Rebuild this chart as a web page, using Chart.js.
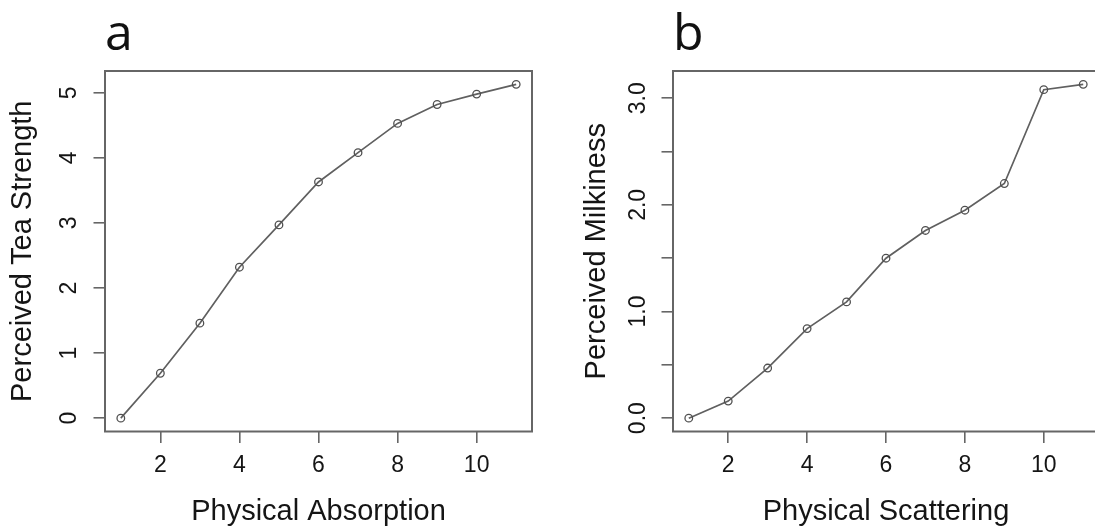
<!DOCTYPE html>
<html>
<head>
<meta charset="utf-8">
<script src="https://cdn.jsdelivr.net/npm/chart.js@4/dist/chart.umd.min.js"></script>
<style>
  body { margin: 0; width: 1095px; height: 527px; overflow: hidden; background: #fff; position: relative; }
  .panel { position: absolute; top: 0; }
  .tag { position: absolute; font-family: "Open Sans", sans-serif; font-size: 50px; line-height: 50px; color: #111; }
</style>
</head>
<body>
<div class="panel" style="left:0px"><canvas id="chartA" width="545" height="527"></canvas></div>
<div class="panel" style="left:568px"><canvas id="chartB" width="544" height="527"></canvas></div>
<div class="tag" style="left:105px; top:6px">a</div>
<div class="tag" style="left:673px; top:6px">b</div>
<script>
// stimulus steps (same for both panels)
const steps = [1, 2, 3, 4, 5, 6, 7, 8, 9, 10, 11];
// perceived values
const teaStrength = [0, 0.69, 1.46, 2.32, 2.97, 3.63, 4.08, 4.53, 4.82, 4.98, 5.13];
const milkiness = [0, 0.16, 0.47, 0.84, 1.09, 1.50, 1.76, 1.95, 2.20, 3.08, 3.13];
// tick labels
const xTickLabels = [2, 4, 6, 8, 10];
const teaTickLabels = [0, 1, 2, 3, 4, 5];
const milkTickLabels = [0, 1, 2, 3];

const ink = '#151515';
const axisGrey = '#666';

// box around the plotting region
const frame = {
    id: 'frame',
    afterDraw(chart) {
        const {ctx, chartArea: a} = chart;
        ctx.save();
        ctx.strokeStyle = axisGrey;
        ctx.lineWidth = 2;
        ctx.strokeRect(a.left, a.top, a.right - a.left, a.bottom - a.top);
        ctx.restore();
    }
};

function makeChart(id, ys, yMin, yMax, yStep, yLabels, fmt, xTitle, yTitle, yPad, yTitlePad) {
    const pts = steps.map((x, i) => ({x: x, y: ys[i]}));
    return new Chart(document.getElementById(id), {
        type: 'line',
        data: {
            datasets: [{
                data: pts,
                borderColor: '#606060',
                borderWidth: 1.7,
                pointRadius: 3.8,
                pointBorderWidth: 1.3,
                pointBorderColor: '#505050',
                pointBackgroundColor: 'rgba(0,0,0,0)',
                tension: 0
            }]
        },
        options: {
            responsive: false,
            animation: false,
            events: [],
            layout: { padding: { top: 71, right: 13, left: 0, bottom: 0 } },
            plugins: { legend: { display: false }, tooltip: { enabled: false } },
            scales: {
                x: {
                    type: 'linear',
                    min: 0.6,
                    max: 11.4,
                    afterFit: s => { s.height = 95.5; },
                    grid: { drawOnChartArea: false, tickLength: 11.5, color: axisGrey, lineWidth: 1.6 },
                    border: { display: false },
                    ticks: {
                        stepSize: 2,
                        includeBounds: false,
                        padding: 9,
                        color: ink,
                        font: { family: 'Liberation Sans', size: 23 },
                        callback: v => xTickLabels.includes(v) ? String(v) : null
                    },
                    title: {
                        display: true,
                        text: xTitle,
                        color: ink,
                        font: { family: 'Liberation Sans', size: 29, lineHeight: 1 },
                        padding: { top: 0, bottom: 1 }
                    }
                },
                y: {
                    min: yMin,
                    max: yMax,
                    afterFit: s => { s.width = 105; },
                    grid: { drawOnChartArea: false, tickLength: 11.5, color: axisGrey, lineWidth: 1.6 },
                    border: { display: false },
                    ticks: {
                        stepSize: yStep,
                        includeBounds: false,
                        minRotation: 90,
                        maxRotation: 90,
                        crossAlign: 'center',
                        padding: yPad,
                        color: ink,
                        font: { family: 'Liberation Sans', size: 23 },
                        callback: v => yLabels.some(t => Math.abs(t - v) < 1e-9) ? fmt(v) : ''
                    },
                    title: {
                        display: true,
                        text: yTitle,
                        color: ink,
                        font: { family: 'Liberation Sans', size: 29, lineHeight: 1.2 },
                        padding: { top: yTitlePad, bottom: 0 }
                    }
                }
            }
        },
        plugins: [frame]
    });
}

makeChart('chartA', teaStrength, -0.205, 5.335, 1, teaTickLabels, v => String(v),
    'Physical Absorption', 'Perceived Tea Strength', 17, 6);
makeChart('chartB', milkiness, -0.125, 3.255, 0.5, milkTickLabels, v => v.toFixed(1),
    'Physical Scattering', 'Perceived Milkiness', 7, 12);
</script>
</body>
</html>
